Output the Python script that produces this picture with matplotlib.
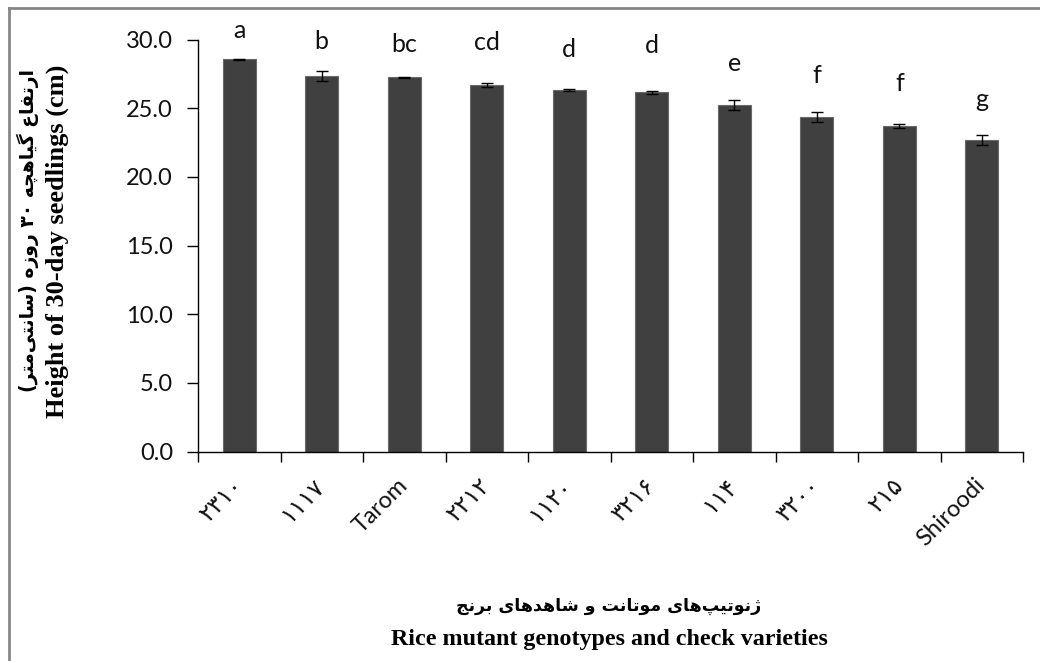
import re
import numpy as np
import matplotlib
matplotlib.use('Agg')
import matplotlib.pyplot as plt
from matplotlib.lines import Line2D

# Data
genotypes = ['۲۳۱۰', '۱۱۱۷', 'Tarom', '۲۲۱۲', '۱۱۲۰', '۳۲۱۶', '۱۱۴', '۳۲۰۰', '۲۱۵', 'Shiroodi']
heights = [28.55, 27.35, 27.25, 26.69, 26.33, 26.16, 25.21, 24.34, 23.71, 22.66]
errors = [0.04, 0.35, 0.05, 0.16, 0.05, 0.12, 0.35, 0.36, 0.15, 0.37]
letters = ['a', 'b', 'bc', 'cd', 'd', 'd', 'e', 'f', 'f', 'g']
letter_y = [30.09, 29.29, 29.12, 29.24, 28.76, 29.05, 27.74, 26.86, 26.26, 25.11]

ylabel_fa = 'ارتفاع گیاهچه ۳۰ روزه (سانتی\u200cمتر)'
ylabel_en = 'Height of 30-day seedlings (cm)'
xlabel_fa = 'ژنوتیپ\u200cهای موتانت و شاهدهای برنج'
xlabel_en = 'Rice mutant genotypes and check varieties'

# Simple Persian shaping (matplotlib has no complex text layout)
FORMS = {
    'ا': ('\uFE8D', '\uFE8E', None, None),
    'ب': ('\uFE8F', '\uFE90', '\uFE91', '\uFE92'),
    'پ': ('\uFB56', '\uFB57', '\uFB58', '\uFB59'),
    'ت': ('\uFE95', '\uFE96', '\uFE97', '\uFE98'),
    'ج': ('\uFE9D', '\uFE9E', '\uFE9F', '\uFEA0'),
    'چ': ('\uFB7A', '\uFB7B', '\uFB7C', '\uFB7D'),
    'د': ('\uFEA9', '\uFEAA', None, None),
    'ر': ('\uFEAD', '\uFEAE', None, None),
    'ز': ('\uFEAF', '\uFEB0', None, None),
    'ژ': ('\uFB8A', '\uFB8B', None, None),
    'س': ('\uFEB1', '\uFEB2', '\uFEB3', '\uFEB4'),
    'ش': ('\uFEB5', '\uFEB6', '\uFEB7', '\uFEB8'),
    'ع': ('\uFEC9', '\uFECA', '\uFECB', '\uFECC'),
    'ف': ('\uFED1', '\uFED2', '\uFED3', '\uFED4'),
    'گ': ('\uFB92', '\uFB93', '\uFB94', '\uFB95'),
    'م': ('\uFEE1', '\uFEE2', '\uFEE3', '\uFEE4'),
    'ن': ('\uFEE5', '\uFEE6', '\uFEE7', '\uFEE8'),
    'ه': ('\uFEE9', '\uFEEA', '\uFEEB', '\uFEEC'),
    'و': ('\uFEED', '\uFEEE', None, None),
    'ی': ('\uFBFC', '\uFBFD', '\uFBFE', '\uFBFF'),
}
DIGITS = '۰۱۲۳۴۵۶۷۸۹0123456789'


def persian(text):
    out = []
    for i, c in enumerate(text):
        if c == '\u200c':
            continue
        if c not in FORMS:
            out.append(c)
            continue
        prev = text[i - 1] if i > 0 else ''
        nxt = text[i + 1] if i + 1 < len(text) else ''
        jp = prev in FORMS and FORMS[prev][2] is not None
        jn = nxt in FORMS and FORMS[c][2] is not None
        iso, fin, ini, med = FORMS[c]
        if jp and jn:
            out.append(med)
        elif jp:
            out.append(fin)
        elif jn:
            out.append(ini)
        else:
            out.append(iso)
    s = ''.join(out)
    tokens = re.findall('[' + DIGITS + ']+|[^' + DIGITS + ']+', s)
    vis = ''.join(t if t[0] in DIGITS else t[::-1] for t in reversed(tokens))
    return vis.translate(str.maketrans('()', ')('))


W, H = 1040, 661
fig = plt.figure(figsize=(W / 100, H / 100), dpi=100)
ax = fig.add_axes([198 / W, 1 - 451.5 / H, (1023 - 198) / W, (451.5 - 39.5) / H])

x = np.arange(len(genotypes))
ax.bar(x, heights, width=0.4, color='#404040', edgecolor='#6a6a6a', linewidth=0.8, zorder=2)
ax.errorbar(x, heights, yerr=errors, fmt='none', ecolor='black', elinewidth=1.0,
            capsize=4, capthick=1.0, zorder=3)

for xi, lt, ly in zip(x, letters, letter_y):
    ax.text(xi, ly, lt, ha='center', va='baseline', fontsize=18, family='Lato',
            color='#111111', clip_on=False)

ax.set_xlim(-0.5, 9.5)
ax.set_ylim(0, 30)
ax.set_yticks(np.arange(0, 30.1, 5))
ax.set_yticklabels(['%.1f' % v for v in np.arange(0, 30.1, 5)])
for lab in ax.get_yticklabels():
    lab.set_family('Lato')
    lab.set_fontsize(17)
    lab.set_color('#111111')
ax.tick_params(axis='y', direction='out', length=8, width=1, pad=10, color='black')

ax.set_xticks(x)
ax.set_xticks(np.arange(-0.5, 10, 1), minor=True)
ax.tick_params(axis='x', which='major', length=0, pad=22)
ax.tick_params(axis='x', which='minor', direction='out', length=7, width=1, color='black')
ax.set_xticklabels(genotypes, rotation=45, ha='right', va='center', rotation_mode='anchor')
for lab in ax.get_xticklabels():
    lab.set_family(['Lato', 'DejaVu Sans'])
    lab.set_fontsize(17)
    lab.set_color('#111111')

for side in ['top', 'right']:
    ax.spines[side].set_visible(False)
for side in ['left', 'bottom']:
    ax.spines[side].set_linewidth(1)
    ax.spines[side].set_color('black')

# axis titles
fig.text(57 / W, 1 - 241 / H, ylabel_en, rotation=90, ha='center', va='center',
         family='Liberation Serif', weight='bold', fontsize=19)
fig.text(28 / W, 1 - 231 / H, persian(ylabel_fa), rotation=90, ha='center', va='center',
         family='DejaVu Sans', weight='bold', fontsize=13.5)
fig.text(609 / W, 1 - 606 / H, persian(xlabel_fa), ha='center', va='center',
         family='DejaVu Sans', weight='bold', fontsize=12.5)
fig.text(609 / W, 1 - 640 / H, xlabel_en, ha='center', va='center',
         family='Liberation Serif', weight='bold', fontsize=17.3)

# chart border (only top and left edges visible in the crop)
fig.add_artist(Line2D([9 / W, 9 / W], [0, 1 - 8 / H], transform=fig.transFigure,
                      color='#868686', linewidth=2))
fig.add_artist(Line2D([9 / W, 1], [1 - 8 / H, 1 - 8 / H], transform=fig.transFigure,
                      color='#868686', linewidth=2))

fig.savefig('out.png', dpi=100)
